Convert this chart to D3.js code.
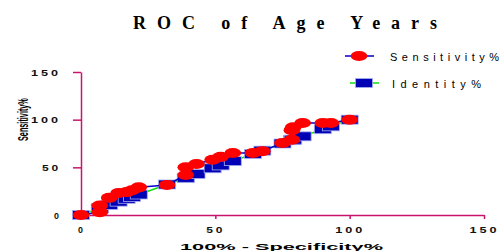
<!DOCTYPE html>
<html><head><meta charset="utf-8">
<script src="https://cdn.jsdelivr.net/npm/d3@7"></script>
<style>
html,body{margin:0;padding:0;background:#fff;}
svg{display:block;}
</style>
</head><body>
<svg id="chart" width="503" height="251"></svg>
<script>
// ---- data ----
const specificityX = [0, 7, 7, 10.5, 14, 17, 19, 21.5, 32, 39, 39, 43, 49, 52, 56.5, 64, 67.5, 75, 78.5, 78.5, 79, 82.5, 90, 93, 100];
const sensitivity  = [0, 3, 10, 18, 23, 24, 26, 29, 31.5, 42, 50, 53.5, 58, 61, 65, 65, 67, 75.5, 79, 89, 92, 96.5, 96.5, 96.5, 100];
const identity     = [0, 7, 7, 10.5, 14, 17, 19, 21.5, 32, 39, 39, 43, 49, 52, 56.5, 64, 67.5, 75, 78.5, 78.5, 79, 82.5, 90, 93, 100];
const xTicks = [0, 50, 100, 150];
const yTicks = [0, 50, 100, 150];
const seriesNames = ["Sensitivity%", "Identity%"];
const titleText = "ROC of Age Years";
const xTitle = "100% - Specificity%";
const yTitle = "Sensitivity%";

const axisColor = "#c8146e";
const svg = d3.select("#chart");
const x = d3.scaleLinear().domain([0, 150]).range([81, 484]);
const y = d3.scaleLinear().domain([0, 150]).range([215, 72]);

// title
svg.append("text").attr("x", 133).attr("y", 29)
  .attr("font-family", "Liberation Serif, Times New Roman, serif")
  .attr("font-weight", "bold").attr("font-size", 18)
  .attr("textLength", 304).attr("lengthAdjust", "spacing")
  .text(titleText);

// axes
const xAxis = svg.append("g").attr("transform", `translate(0,${y(0)})`)
  .call(d3.axisBottom(x).tickValues(xTicks).tickSize(4).tickSizeOuter(0).tickPadding(8));
const yAxis = svg.append("g").attr("transform", `translate(${x(0)},0)`)
  .call(d3.axisLeft(y).tickValues(yTicks).tickSize(8).tickSizeOuter(0).tickPadding(12));
[xAxis, yAxis].forEach(g => {
  g.select(".domain").attr("stroke", axisColor).attr("stroke-width", 1.5);
  g.selectAll(".tick line").attr("stroke", axisColor).attr("stroke-width", 1.5);
  g.selectAll(".tick text").attr("fill", "#111")
    .attr("font-family", "Liberation Sans, Arial, sans-serif")
    .attr("font-weight", "bold").attr("font-size", 8.5)
    .attr("letter-spacing", 2)
    .each(function(d) {
      const n = String(d).length;
      d3.select(this).attr("textLength", n === 1 ? 7 : n === 2 ? 19 : 30)
        .attr("lengthAdjust", "spacingAndGlyphs");
    });
});
xAxis.selectAll(".tick text").attr("dy", "0.75em");
yAxis.selectAll(".tick text").attr("dx", 0).attr("dy", "0.36em");

// axis titles
svg.append("text").attr("x", 180).attr("y", 249.5)
  .attr("font-family", "Liberation Sans, Arial, sans-serif")
  .attr("font-weight", "bold").attr("font-size", 9)
  .attr("textLength", 203).attr("lengthAdjust", "spacingAndGlyphs")
  .text(xTitle);
svg.append("text").attr("transform", "translate(28,141) rotate(-90) scale(0.52,1)")
  .attr("font-family", "Liberation Sans, Arial, sans-serif")
  .attr("font-weight", "bold").attr("font-size", 14)
  .text(yTitle);

// identity series
const idPts = identity.map((v, i) => [specificityX[i], v]);
svg.append("path").datum(idPts)
  .attr("fill", "none").attr("stroke", "#11dd11").attr("stroke-width", 1.5)
  .attr("d", d3.line().x(d => x(d[0])).y(d => y(d[1])));
svg.selectAll("rect.id").data(idPts).join("rect").attr("class", "id")
  .attr("x", d => x(d[0]) - 8.5).attr("y", d => y(d[1]) - 4.5)
  .attr("width", 17).attr("height", 9)
  .attr("fill", "#0000b4").attr("stroke", "#a8b0f0").attr("stroke-width", 0.8);

// sensitivity series
const senPts = sensitivity.map((v, i) => [specificityX[i], v]);
svg.append("path").datum(senPts)
  .attr("fill", "none").attr("stroke", "#0000cc").attr("stroke-width", 1.5)
  .attr("d", d3.line().x(d => x(d[0])).y(d => y(d[1])));
svg.selectAll("ellipse.sen").data(senPts).join("ellipse").attr("class", "sen")
  .attr("cx", d => x(d[0])).attr("cy", d => y(d[1]))
  .attr("rx", 8.3).attr("ry", 5).attr("fill", "#ff0000");

// legend
const lg = svg.append("g");
lg.append("line").attr("x1", 345).attr("x2", 374).attr("y1", 56).attr("y2", 56)
  .attr("stroke", "#0000cc").attr("stroke-width", 1.5);
lg.append("ellipse").attr("cx", 359).attr("cy", 56).attr("rx", 8.3).attr("ry", 5).attr("fill", "#ff0000");
lg.append("text").attr("x", 390).attr("y", 60.5)
  .attr("font-family", "Liberation Sans, Arial, sans-serif").attr("font-size", 11)
  .attr("textLength", 109).attr("lengthAdjust", "spacing")
  .text(seriesNames[0]);
lg.append("line").attr("x1", 350).attr("x2", 379).attr("y1", 83).attr("y2", 83)
  .attr("stroke", "#11dd11").attr("stroke-width", 1.5);
lg.append("rect").attr("x", 355.5).attr("y", 78.5).attr("width", 17).attr("height", 9)
  .attr("fill", "#0000b4").attr("stroke", "#a8b0f0").attr("stroke-width", 0.8);
lg.append("text").attr("x", 392).attr("y", 87.5)
  .attr("font-family", "Liberation Sans, Arial, sans-serif").attr("font-size", 11)
  .attr("textLength", 89).attr("lengthAdjust", "spacing")
  .text(seriesNames[1]);
</script>
</body></html>
